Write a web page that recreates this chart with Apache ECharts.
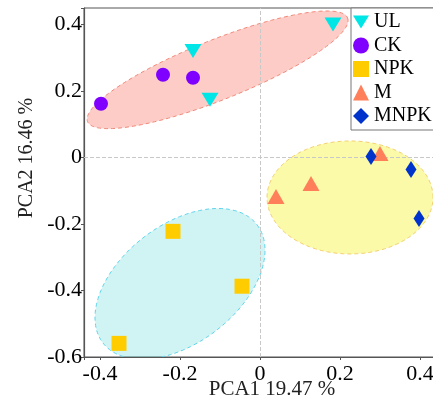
<!DOCTYPE html>
<html>
<head>
<meta charset="utf-8">
<script src="https://cdn.jsdelivr.net/npm/echarts@6/dist/echarts.min.js"></script>
<style>
  html, body { margin: 0; padding: 0; background: #fff; }
  #main { width: 433px; height: 402px; }
</style>
</head>
<body>
<div id="main"></div>
<script>
// groups (legend order)
var groups = ["UL", "CK", "NPK", "M", "MNPK"];
// sample scores [PCA1, PCA2]
var ulPoints = [[-0.1675, 0.321], [-0.125, 0.174], [0.1825, 0.40]];
var ckPoints = [[-0.3975, 0.162], [-0.2425, 0.249], [-0.1675, 0.24]];
var npkPoints = [[-0.2175, -0.222], [-0.3525, -0.559], [-0.045, -0.387]];
var mPoints = [[0.30, 0.012], [0.1275, -0.078], [0.04, -0.117]];
var mnpkPoints = [[0.2775, 0.003], [0.3775, -0.036], [0.3975, -0.183]];
// confidence ellipses: centre + two semi-axis vectors (PCA units)
var ellipseCenters = [[-0.106, 0.264], [-0.2, -0.38], [0.225, -0.12]];
var ellipseAxesU = [[0.325, 0.156], [0.1925, 0.178], [0.2075, 0]];
var ellipseAxesV = [[0.0278, -0.0836], [0.0901, -0.1406], [0, 0.17]];
// tick labels shown
var xTickLabels = [-0.4, -0.2, 0, 0.2, 0.4];
var yTickLabels = [-0.6, -0.4, -0.2, 0, 0.2, 0.4];

var font = "Liberation Serif";
var myChart = echarts.init(document.getElementById("main"));

function onTick(list) {
  return function (val) {
    for (var i = 0; i < list.length; i++) {
      if (Math.abs(list[i] - val) < 1e-6) return String(list[i]);
    }
    return "";
  };
}

function ellipse(i, fill, stroke) {
  return {
    type: "custom",
    silent: true,
    clip: true,
    z: 1,
    data: [ellipseCenters[i]],
    renderItem: function (params, api) {
      var c = ellipseCenters[i], u = ellipseAxesU[i], v = ellipseAxesV[i];
      var pts = [];
      for (var k = 0; k < 160; k++) {
        var t = (k / 160) * Math.PI * 2;
        pts.push(api.coord([
          c[0] + u[0] * Math.cos(t) + v[0] * Math.sin(t),
          c[1] + u[1] * Math.cos(t) + v[1] * Math.sin(t),
        ]));
      }
      return {
        type: "polygon",
        shape: { points: pts },
        style: { fill: fill, stroke: stroke, lineWidth: 1, lineDash: [4, 3] },
      };
    },
  };
}

var option = {
  animation: false,
  grid: {
    left: 84, top: 8, right: -3, bottom: 45,
    outerBoundsMode: "none",
    containLabel: false,
    show: true, borderColor: "#555", borderWidth: 1,
  },
  legend: {
    data: groups,
    orient: "vertical",
    left: 351, top: 8,
    padding: [4, 80, 4, 2],
    itemWidth: 16, itemHeight: 16, itemGap: 3.5,
    backgroundColor: "#fff",
    borderColor: "#777", borderWidth: 1,
    textStyle: { fontFamily: font, fontSize: 20, lineHeight: 16, color: "#000" },
  },
  xAxis: {
    type: "value",
    min: -0.44, max: 0.44,
    splitNumber: 5,
    name: "PCA1 19.47 %",
    nameLocation: "middle",
    nameGap: 22,
    nameMoveOverlap: false,
    nameTextStyle: { fontFamily: font, fontSize: 21, color: "#222", padding: [0, 0, 0, 24] },
    axisLine: { onZero: false, lineStyle: { color: "#555", width: 1.2 } },
    axisTick: { show: true, length: 3, lineStyle: { color: "#555" } },
    splitLine: { show: false },
    axisLabel: {
      fontFamily: font, fontSize: 22, color: "#000", margin: 6,
      formatter: onTick(xTickLabels),
    },
  },
  yAxis: {
    type: "value",
    min: -0.6, max: 0.45,
    interval: 0.2,
    name: "PCA2 16.46 %",
    nameLocation: "middle",
    nameGap: 47,
    nameMoveOverlap: false,
    nameTextStyle: { fontFamily: font, fontSize: 20, color: "#222", padding: [0, 0, 0, 49] },
    axisLine: { onZero: false, lineStyle: { color: "#555", width: 1.2 } },
    axisTick: { show: true, length: 3, lineStyle: { color: "#555" } },
    splitLine: { show: false },
    axisLabel: {
      fontFamily: font, fontSize: 22, color: "#000", margin: 2,
      formatter: onTick(yTickLabels),
    },
  },
  series: [
    ellipse(0, "rgba(250,128,114,0.4)", "#F08878"),
    ellipse(1, "rgba(0,190,195,0.185)", "#5FD3EA"),
    ellipse(2, "rgba(240,240,0,0.34)", "#F2CF72"),
    {
      name: "UL", type: "scatter", z: 3,
      symbol: "path://M0,0 L10,0 L5,8 Z", symbolSize: [17, 14],
      itemStyle: { color: "#00E5E5", opacity: 1 },
      data: ulPoints,
      markLine: {
        silent: true, symbol: "none", z: 2,
        label: { show: false },
        lineStyle: { type: "dashed", color: "#C8C8C8", width: 1 },
        data: [{ xAxis: 0 }, { yAxis: 0 }],
      },
    },
    {
      name: "CK", type: "scatter", z: 3,
      symbol: "circle", symbolSize: 14,
      itemStyle: { color: "#7F00FF", opacity: 1 },
      data: ckPoints,
    },
    {
      name: "NPK", type: "scatter", z: 3,
      symbol: "rect", symbolSize: 15,
      itemStyle: { color: "#FFCC00", opacity: 1 },
      data: npkPoints,
    },
    {
      name: "M", type: "scatter", z: 3,
      symbol: "triangle", symbolSize: [17, 15],
      itemStyle: { color: "#FF7F5A", opacity: 1 },
      data: mPoints,
    },
    {
      name: "MNPK", type: "scatter", z: 3,
      symbol: "diamond", symbolSize: [11, 17],
      itemStyle: { color: "#0033CC", opacity: 1 },
      data: mnpkPoints,
    },
  ],
};

myChart.setOption(option);
</script>
</body>
</html>
